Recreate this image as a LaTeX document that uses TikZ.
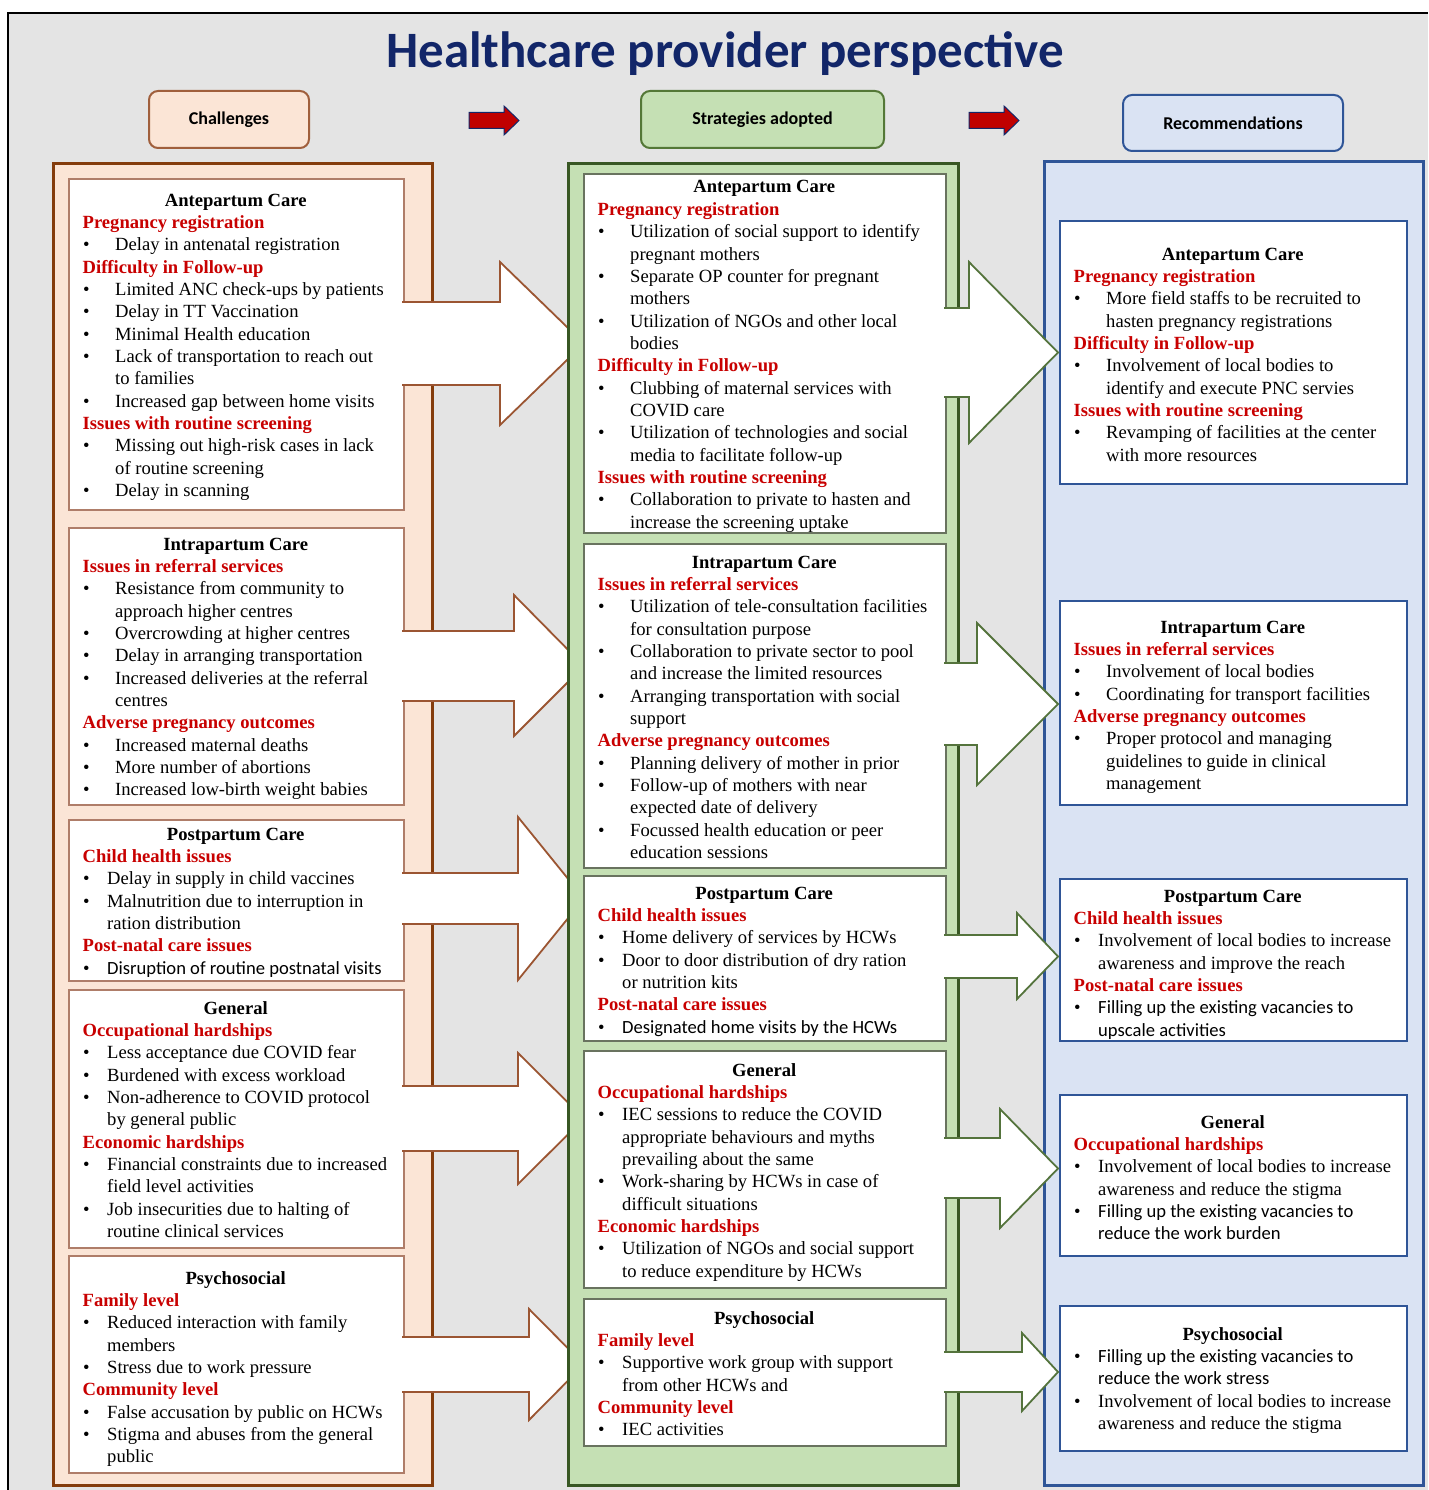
\documentclass[tikz,border=0pt]{standalone}
\usepackage{fontspec}
\setmainfont{Liberation Serif}
\newfontfamily\calib{Carlito}
\definecolor{bggray}{RGB}{228,228,228}
\definecolor{peach}{RGB}{251,229,214}
\definecolor{brownB}{RGB}{132,60,12}
\definecolor{innerC}{RGB}{175,125,105}
\definecolor{greenF}{RGB}{197,224,180}
\definecolor{greenB}{RGB}{56,87,35}
\definecolor{innerG}{RGB}{105,115,95}
\definecolor{blueF}{RGB}{218,227,243}
\definecolor{blueB}{RGB}{47,85,151}
\definecolor{arrowA}{RGB}{155,85,50}
\definecolor{arrowB}{RGB}{84,115,60}
\definecolor{hred}{RGB}{200,0,0}
\definecolor{navy}{RGB}{18,38,105}
\definecolor{btnC}{RGB}{160,95,60}
\definecolor{btnG}{RGB}{84,120,55}
\definecolor{redarr}{RGB}{192,0,0}
\newlength\bw \newlength\tin
\newcommand\wide{\setlength\bw{32pt}\setlength\tin{47pt}}
\newcommand\narrow{\setlength\bw{24pt}\setlength\tin{39pt}}
\newcommand\Hd[1]{\par\makebox[\linewidth]{\bfseries #1}}
\newcommand\Sh[1]{\par\hspace*{14.5pt}{\color{hred}\bfseries #1}}
\newcommand\Bl[1]{\par\hspace*{15pt}\makebox[\bw][l]{•}{#1}}
\newcommand\Ct[1]{\par\hspace*{\tin}{#1}}
\newcommand\boxtext[5]{\node[anchor=base west, inner sep=0pt] (#1) at (#2,#3) {\parbox[t]{#4pt}{\fontsize{18.6pt}{22.35pt}\selectfont #5}};}
\begin{document}
\begin{tikzpicture}[x=1pt,y=-1pt,
  colC/.style={draw=brownB, fill=peach, line width=3pt, inner sep=0pt, anchor=north west},
  colG/.style={draw=greenB, fill=greenF, line width=3pt, inner sep=0pt, anchor=north west},
  colB/.style={draw=blueB, fill=blueF, line width=3pt, inner sep=0pt, anchor=north west},
  boxC/.style={draw=innerC, fill=white, line width=2pt, inner sep=0pt, anchor=north west},
  boxG/.style={draw=innerG, fill=white, line width=2pt, inner sep=0pt, anchor=north west},
  boxB/.style={draw=blueB, fill=white, line width=2pt, inner sep=0pt, anchor=north west},
  btn/.style={rounded corners=9pt, line width=2pt, inner sep=0pt, anchor=north west},
  btntext/.style={font=\calib\bfseries\fontsize{18pt}{20pt}\selectfont},
  blkA/.style={draw=arrowA, line width=1.8pt, line join=miter},
  blkB/.style={draw=arrowB, line width=1.8pt, line join=miter},
  redarrow/.style={fill=redarr, draw=navy, line width=1pt}
]
\useasboundingbox (0,0) rectangle (1428,1490);
\fill[white] (0,0) rectangle (1428,1490);
\fill[bggray] (8,13) rectangle (1428,1490);
\draw[black, line width=1.5pt] (8,1490) -- (8,13) -- (1428,13);

% title
\node[anchor=base, inner sep=0pt, text=navy, font=\calib\bfseries\fontsize{51pt}{56pt}\selectfont] (title) at (725,68) {Healthcare provider perspective};

% header buttons
\node[btn, draw=btnC, fill=peach, minimum width=160pt, minimum height=57pt] (hC) at (148,90) {};
\node[btntext] (hCt) at (hC.center) {Challenges};
\node[btn, draw=btnG, fill=greenF, minimum width=243pt, minimum height=57pt] (hG) at (640,90) {};
\node[btntext] (hGt) at (hG.center) {Strategies adopted};
\node[btn, draw=blueB, fill=blueF, minimum width=220pt, minimum height=56pt] (hB) at (1122,94) {};
\node[btntext] (hBt) at (hB.center) {Recommendations};

\draw[redarrow] (469,112.5) -- (504,112.5) -- (504,106) -- (519,120.5) -- (504,135) -- (504,128.5) -- (469,128.5) -- cycle;
\draw[redarrow] (969,112.5) -- (1004,112.5) -- (1004,106) -- (1019,120.5) -- (1004,135) -- (1004,128.5) -- (969,128.5) -- cycle;

% challenges column
\node[colC, minimum width=379pt, minimum height=1322pt] (colc) at (52,162) {};
\node[boxC, minimum width=335pt, minimum height=331pt] (c1) at (68,178) {};
\node[boxC, minimum width=335pt, minimum height=277pt] (c2) at (68,527) {};
\node[boxC, minimum width=335pt, minimum height=161pt] (c3) at (68,819) {};
\node[boxC, minimum width=335pt, minimum height=258pt] (c4) at (68,989) {};
\node[boxC, minimum width=335pt, minimum height=217pt] (c5) at (68,1255) {};

% block arrows challenges -> strategies
\newcommand\arrA[6]{%
\fill[white] (401.5,#1) -- (#5,#1) -- (#5,#3) -- (584,#6) -- (#5,#4) -- (#5,#2) -- (401.5,#2) -- cycle;
\draw[blkA] (402,#1) -- (#5,#1) -- (#5,#3) -- (584,#6) -- (#5,#4) -- (#5,#2) -- (402,#2);}
\arrA{302}{385}{262}{425}{500}{343.5}
\arrA{631}{701}{595}{736}{514}{666}
\arrA{873}{924}{817}{980}{518}{898.5}
\arrA{1086}{1151}{1053}{1184}{518}{1118.5}
\arrA{1337}{1392}{1309}{1420}{529}{1364.5}

% strategies column
\node[colG, minimum width=390pt, minimum height=1322pt] (colg) at (567,162) {};
\node[boxG, minimum width=362pt, minimum height=359pt] (g1) at (583,173) {};
\node[boxG, minimum width=362pt, minimum height=324pt] (g2) at (583,543) {};
\node[boxG, minimum width=362pt, minimum height=165pt] (g3) at (583,875) {};
\node[boxG, minimum width=362pt, minimum height=237pt] (g4) at (583,1050) {};
\node[boxG, minimum width=362pt, minimum height=147pt] (g5) at (583,1298) {};

% recommendations column
\node[colB, minimum width=379pt, minimum height=1324pt] (colb) at (1043,160) {};
\node[boxB, minimum width=347pt, minimum height=263pt] (b1) at (1059,220) {};
\node[boxB, minimum width=347pt, minimum height=204pt] (b2) at (1059,600) {};
\node[boxB, minimum width=347pt, minimum height=162pt] (b3) at (1059,878) {};
\node[boxB, minimum width=347pt, minimum height=161pt] (b4) at (1059,1094) {};
\node[boxB, minimum width=347pt, minimum height=145pt] (b5) at (1059,1305) {};

% block arrows strategies -> recommendations
\newcommand\arrB[6]{%
\fill[white] (943,#1) -- (#5,#1) -- (#5,#3) -- (1058,#6) -- (#5,#4) -- (#5,#2) -- (943,#2) -- cycle;
\draw[blkB] (944,#1) -- (#5,#1) -- (#5,#3) -- (1058,#6) -- (#5,#4) -- (#5,#2) -- (944,#2);}
\arrB{308}{397}{262}{443}{969}{352.5}
\arrB{663}{745}{623}{785}{977}{704}
\arrB{935}{978}{913}{999}{1017}{956.5}
\arrB{1138}{1198}{1109}{1228}{1000}{1168.5}
\arrB{1352}{1392}{1333}{1411}{1022}{1372}

% ---------- texts: challenges ----------
\boxtext{tc1}{68}{206}{335}{\wide
\Hd{Antepartum Care}
\Sh{Pregnancy registration}
\Bl{Delay in antenatal registration}
\Sh{Difficulty in Follow-up}
\Bl{Limited ANC check-ups by patients}
\Bl{Delay in TT Vaccination}
\Bl{Minimal Health education}
\Bl{Lack of transportation to reach out}
\Ct{to families}
\Bl{Increased gap between home visits}
\Sh{Issues with routine screening}
\Bl{Missing out high-risk cases in lack}
\Ct{of routine screening}
\Bl{Delay in scanning}}

\boxtext{tc2}{68}{550}{335}{\wide
\Hd{Intrapartum Care}
\Sh{Issues in referral services}
\Bl{Resistance from community to}
\Ct{approach higher centres}
\Bl{Overcrowding at higher centres}
\Bl{Delay in arranging transportation}
\Bl{Increased deliveries at the referral}
\Ct{centres}
\Sh{Adverse pregnancy outcomes}
\Bl{Increased maternal deaths}
\Bl{More number of abortions}
\Bl{Increased low-birth weight babies}}

\boxtext{tc3}{68}{840}{335}{\narrow
\Hd{Postpartum Care}
\Sh{Child health issues}
\Bl{Delay in supply in child vaccines}
\Bl{Malnutrition due to interruption in}
\Ct{ration distribution}
\Sh{Post-natal care issues}
\Bl{\calib Disruption of routine postnatal visits}}

\boxtext{tc4}{68}{1014}{335}{\narrow
\Hd{General}
\Sh{Occupational hardships}
\Bl{Less acceptance due COVID fear}
\Bl{Burdened with excess workload}
\Bl{Non-adherence to COVID protocol}
\Ct{by general public}
\Sh{Economic hardships}
\Bl{Financial constraints due to increased}
\Ct{field level activities}
\Bl{Job insecurities due to halting of}
\Ct{routine clinical services}}

\boxtext{tc5}{68}{1284}{335}{\narrow
\Hd{Psychosocial}
\Sh{Family level}
\Bl{Reduced interaction with family}
\Ct{members}
\Bl{Stress due to work pressure}
\Sh{Community level}
\Bl{False accusation by public on HCWs}
\Bl{Stigma and abuses from the general}
\Ct{public}}

% ---------- texts: strategies ----------
\boxtext{tg1}{583}{193}{362}{\wide
\Hd{Antepartum Care}
\Sh{Pregnancy registration}
\Bl{Utilization of social support to identify}
\Ct{pregnant mothers}
\Bl{Separate OP counter for pregnant}
\Ct{mothers}
\Bl{Utilization of NGOs and other local}
\Ct{bodies}
\Sh{Difficulty in Follow-up}
\Bl{Clubbing of maternal services with}
\Ct{COVID care}
\Bl{Utilization of technologies and social}
\Ct{media to facilitate follow-up}
\Sh{Issues with routine screening}
\Bl{Collaboration to private to hasten and}
\Ct{increase the screening uptake}}

\boxtext{tg2}{583}{568}{362}{\wide
\Hd{Intrapartum Care}
\Sh{Issues in referral services}
\Bl{Utilization of tele-consultation facilities}
\Ct{for consultation purpose}
\Bl{Collaboration to private sector to pool}
\Ct{and increase the limited resources}
\Bl{Arranging transportation with social}
\Ct{support}
\Sh{Adverse pregnancy outcomes}
\Bl{Planning delivery of mother in prior}
\Bl{Follow-up of mothers with near}
\Ct{expected date of delivery}
\Bl{Focussed health education or peer}
\Ct{education sessions}}

\boxtext{tg3}{583}{899}{362}{\narrow
\Hd{Postpartum Care}
\Sh{Child health issues}
\Bl{Home delivery of services by HCWs}
\Bl{Door to door distribution of dry ration}
\Ct{or nutrition kits}
\Sh{Post-natal care issues}
\Bl{\calib Designated home visits by the HCWs}}

\boxtext{tg4}{583}{1076}{362}{\narrow
\Hd{General}
\Sh{Occupational hardships}
\Bl{IEC sessions to reduce the COVID}
\Ct{appropriate behaviours and myths}
\Ct{prevailing about the same}
\Bl{Work-sharing by HCWs in case of}
\Ct{difficult situations}
\Sh{Economic hardships}
\Bl{Utilization of NGOs and social support}
\Ct{to reduce expenditure by HCWs}}

\boxtext{tg5}{583}{1324}{362}{\narrow
\Hd{Psychosocial}
\Sh{Family level}
\Bl{Supportive work group with support}
\Ct{from other HCWs and}
\Sh{Community level}
\Bl{IEC activities}}

% ---------- texts: recommendations ----------
\boxtext{tb1}{1059}{260}{347}{\wide
\Hd{Antepartum Care}
\Sh{Pregnancy registration}
\Bl{More field staffs to be recruited to}
\Ct{hasten pregnancy registrations}
\Sh{Difficulty in Follow-up}
\Bl{Involvement of local bodies to}
\Ct{identify and execute PNC servies}
\Sh{Issues with routine screening}
\Bl{Revamping of facilities at the center}
\Ct{with more resources}}

\boxtext{tb2}{1059}{633}{347}{\wide
\Hd{Intrapartum Care}
\Sh{Issues in referral services}
\Bl{Involvement of local bodies}
\Bl{Coordinating for transport facilities}
\Sh{Adverse pregnancy outcomes}
\Bl{Proper protocol and managing}
\Ct{guidelines to guide in clinical}
\Ct{management}}

\boxtext{tb3}{1059}{902}{347}{\narrow
\Hd{Postpartum Care}
\Sh{Child health issues}
\Bl{Involvement of local bodies to increase}
\Ct{awareness and improve the reach}
\Sh{Post-natal care issues}
\Bl{\calib Filling up the existing vacancies to}
\Ct{\calib upscale activities}}

\boxtext{tb4}{1059}{1128}{347}{\narrow
\Hd{General}
\Sh{Occupational hardships}
\Bl{Involvement of local bodies to increase}
\Ct{awareness and reduce the stigma}
\Bl{\calib Filling up the existing vacancies to}
\Ct{\calib reduce the work burden}}

\boxtext{tb5}{1059}{1340}{347}{\narrow
\Hd{Psychosocial}
\Bl{\calib Filling up the existing vacancies to}
\Ct{\calib reduce the work stress}
\Bl{Involvement of local bodies to increase}
\Ct{awareness and reduce the stigma}}
\end{tikzpicture}
\end{document}
